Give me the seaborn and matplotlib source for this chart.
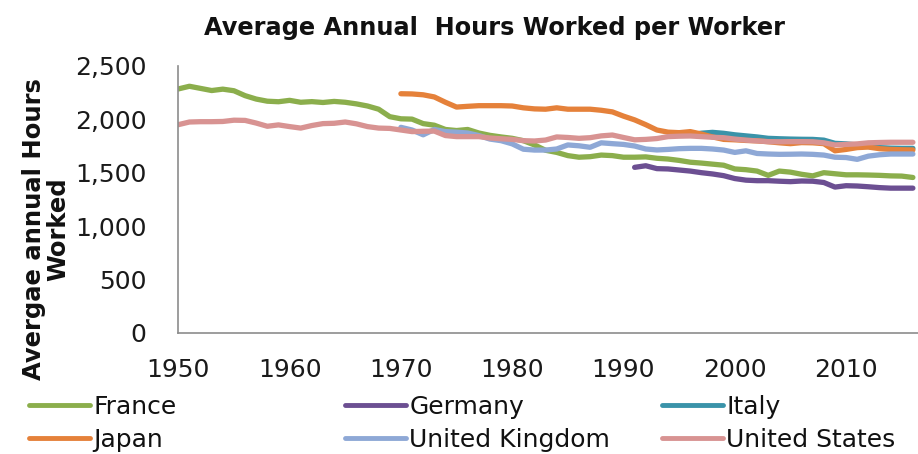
import numpy as np
import pandas as pd
import seaborn as sns
import matplotlib
matplotlib.use("Agg")
import matplotlib.pyplot as plt
from matplotlib.lines import Line2D

# Average annual hours worked per worker, by country
france_years = list(range(1950, 2017))
france_hours = [
    2285, 2310, 2290, 2270, 2283, 2268, 2222, 2190, 2170, 2165,
    2178, 2160, 2166, 2158, 2168, 2160, 2145, 2125, 2095, 2025,
    2005, 2002, 1960, 1945, 1905, 1895, 1905, 1872, 1850, 1835,
    1822, 1800, 1760, 1710, 1690, 1660, 1645, 1650, 1665, 1660,
    1645, 1645, 1648, 1635, 1628, 1615, 1598, 1590, 1580, 1570,
    1535, 1528, 1515, 1475, 1515, 1505, 1485, 1470, 1500, 1490,
    1480, 1480, 1478, 1475, 1470, 1468, 1455,
]

germany_years = list(range(1991, 2017))
germany_hours = [
    1550, 1565, 1538, 1535, 1525, 1515, 1500, 1488, 1472, 1445,
    1430, 1425, 1425, 1420, 1416, 1422, 1420, 1408, 1365, 1378,
    1375, 1368, 1360, 1355, 1355, 1355,
]

italy_years = list(range(1995, 2017))
italy_hours = [
    1850, 1855, 1870, 1878, 1869, 1855, 1845, 1835, 1822, 1818,
    1815, 1813, 1812, 1805, 1775, 1770, 1760, 1745, 1735, 1730,
    1728, 1728,
]

japan_years = list(range(1970, 2017))
japan_hours = [
    2240, 2238, 2230, 2210, 2160, 2115, 2122, 2128, 2128, 2128,
    2125, 2108, 2098, 2095, 2108, 2095, 2095, 2095, 2085, 2070,
    2030, 1995, 1950, 1900, 1880, 1875, 1885, 1862, 1835, 1812,
    1808, 1802, 1798, 1790, 1780, 1772, 1782, 1780, 1772, 1705,
    1718, 1735, 1740, 1725, 1718, 1715, 1713,
]

uk_years = list(range(1970, 2017))
uk_hours = [
    1925, 1900, 1855, 1905, 1885, 1880, 1872, 1848, 1815, 1800,
    1770, 1720, 1712, 1712, 1722, 1760, 1752, 1738, 1780, 1772,
    1765, 1750, 1722, 1713, 1718, 1725, 1728, 1728, 1722, 1712,
    1690, 1705, 1680, 1675, 1672, 1673, 1675, 1672, 1665, 1645,
    1642, 1625, 1655, 1668, 1675, 1675, 1675,
]

us_years = list(range(1950, 2017))
us_hours = [
    1950, 1975, 1978, 1978, 1980, 1992, 1990, 1965, 1935, 1948,
    1932, 1918, 1942, 1960, 1963, 1975, 1958, 1932, 1918, 1915,
    1900, 1885, 1888, 1890, 1848, 1838, 1838, 1838, 1825, 1818,
    1812, 1800, 1797, 1806, 1835, 1830, 1822, 1828, 1845, 1853,
    1830, 1808, 1812, 1820, 1838, 1842, 1844, 1838, 1832, 1828,
    1815, 1805, 1798, 1791, 1790, 1791, 1791, 1790, 1780, 1760,
    1765, 1770, 1780, 1783, 1785, 1785, 1785,
]

countries = ["France", "Germany", "Italy", "Japan", "United Kingdom", "United States"]
colors = ["#8BAE4C", "#6C4F92", "#3A93A9", "#E5813A", "#8EA8D6", "#D89392"]

y_ticks = [0, 500, 1000, 1500, 2000, 2500]
y_tick_labels = ["0", "500", "1,000", "1,500", "2,000", "2,500"]
x_ticks = list(range(1950, 2016, 5))
x_tick_labels = [str(y) if y % 10 == 0 else "" for y in x_ticks]

series = [
    (france_years, france_hours),
    (germany_years, germany_hours),
    (italy_years, italy_hours),
    (japan_years, japan_hours),
    (uk_years, uk_hours),
    (us_years, us_hours),
]
frames = [
    pd.DataFrame({"Year": yrs, "Hours": hrs, "Country": name})
    for name, (yrs, hrs) in zip(countries, series)
]
df = pd.concat(frames, ignore_index=True)

sns.set_style("white")
plt.rcParams["font.family"] = ["DejaVu Sans"]

W, H = 918, 454
FS = 18
fig = plt.figure(figsize=(W / 100, H / 100), dpi=100)
ax = fig.add_axes([178.3 / W, (H - 332.7) / H, (W - 178.3) / W, (332.7 - 66) / H])

palette = dict(zip(countries, colors))
sns.lineplot(data=df, x="Year", y="Hours", hue="Country", hue_order=countries,
             palette=palette, linewidth=3.8, legend=False, ax=ax,
             solid_capstyle="round", solid_joinstyle="round")

ax.set_xlim(1950, 1950 + (W - 178.3) / 11.13)
ax.set_ylim(0, 2500)
ax.set_yticks(y_ticks)
ax.set_yticklabels(y_tick_labels)
ax.set_xticks(x_ticks)
ax.set_xticklabels(x_tick_labels)
ax.set_xlabel("")
ax.set_ylabel("")

for side in ("top", "right"):
    ax.spines[side].set_visible(False)
for side in ("left", "bottom"):
    ax.spines[side].set_color("#8c8c8c")
    ax.spines[side].set_linewidth(1.2)

ax.tick_params(axis="both", which="major", direction="out", length=7,
               width=1.2, color="#8c8c8c", labelsize=FS, labelcolor="#1a1a1a")
ax.tick_params(axis="y", pad=16)
ax.tick_params(axis="x", pad=11)
ax.grid(False)

fig.text(495 / W, 1 - 28 / H, "Average Annual  Hours Worked per Worker",
         ha="center", va="center", fontsize=17.3, fontweight="bold", color="#111111")
fig.text(46 / W, 1 - 229 / H, "Avergae annual Hours\nWorked",
         ha="center", va="center", rotation=90, fontsize=17.5,
         fontweight="bold", color="#111111", linespacing=1.0)

# legend: two rows of three, evenly spaced columns
col_x = [29, 345, 662]
for i, x0 in enumerate(col_x):
    names = [countries[i], countries[i + 3]]
    handles = [Line2D([0], [0], color=palette[n], lw=3.5, solid_capstyle="round")
               for n in names]
    fig.legend(handles, names, loc="upper left",
               bbox_to_anchor=(x0 / W, 1 - 395 / H), frameon=False,
               fontsize=FS, handlelength=2.45, handletextpad=0.12,
               labelspacing=0.36, borderpad=0, borderaxespad=0,
               labelcolor="#111111")

fig.savefig("out.png", dpi=100)
